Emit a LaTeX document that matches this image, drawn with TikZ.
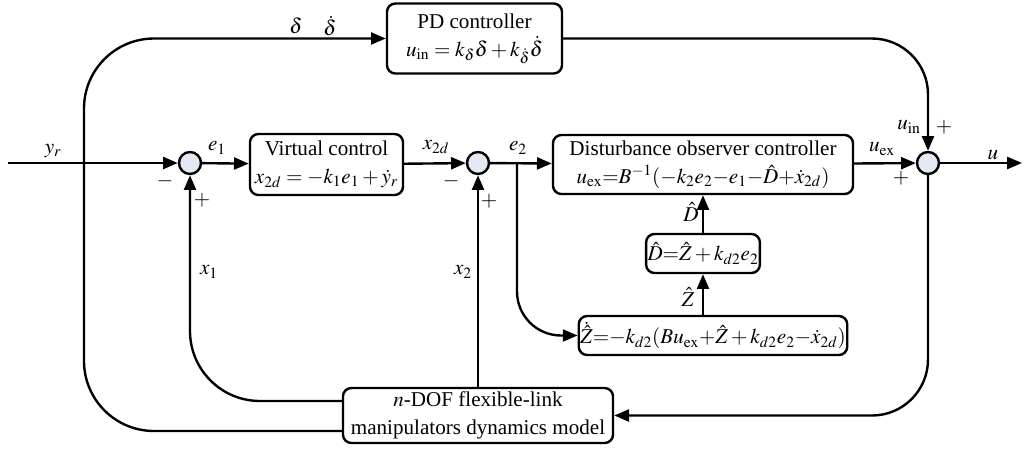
\documentclass[tikz,border=0pt]{standalone}
\usepackage{mathptmx}
\usepackage{fontspec}
\setmainfont{Liberation Serif}
\usepackage{xcolor}
\definecolor{sumfill}{RGB}{226,233,243}
\usetikzlibrary{arrows.meta,calc,positioning}

\begin{document}
\begin{tikzpicture}[x=0.025cm,y=-0.025cm,>={Triangle[length=10.5pt,width=8.5pt]},line width=1.7pt,
    font=\fontsize{15}{20}\selectfont,
    blk/.style={draw,rounded corners=6pt,align=center,inner sep=1pt},
    sumnode/.style={draw,circle,fill=sumfill,minimum size=0.55cm,inner sep=0pt},
    lbl/.style={inner sep=1pt}]
    \useasboundingbox (0,0) rectangle (1027,449);
    % blocks
    \node[blk,minimum width=4.375cm,minimum height=1.75cm] (pd) at (474.5,38.5)
      {PD controller\\ $u_{\mathrm{in}} = k_\delta\delta + k_{\dot\delta}\dot\delta$};
    \node[blk,minimum width=3.825cm,minimum height=1.525cm] (vc) at (326.5,164.5)
      {Virtual control\\ $x_{2d} = -k_1e_1 + \dot y_r$};
    \node[blk,minimum width=7.5cm,minimum height=1.475cm] (doc) at (703,164.5)
      {Disturbance observer controller\\ $u_{\mathrm{ex}}{=}B^{-1}(-k_2e_2{-}e_1{-}\hat D{+}\dot x_{2d})$};
    \node[blk,minimum width=2.65cm,minimum height=0.975cm] (dhat) at (703,253.5)
      {$\hat D{=}\hat Z+k_{d2}e_2$};
    \node[blk,minimum width=6.5cm,minimum height=0.975cm] (zdot) at (713,335.5)
      {$\dot{\hat Z}{=}{-}k_{d2}(Bu_{\mathrm{ex}}{+}\hat Z+k_{d2}e_2{-}\dot x_{2d})$};
    \node[blk,minimum width=6.75cm,minimum height=1.375cm] (plant) at (478,415.5)
      {$n$-DOF flexible-link\\ manipulators dynamics model};
    % summing points
    \node[sumnode] (s1) at (190,163) {};
    \node[sumnode] (s2) at (478,163) {};
    \node[sumnode] (s3) at (928,163) {};
    \coordinate (in) at (8,163);
    \coordinate (out) at (1022,163);
    \coordinate (br) at (517,163);
    % forward path
    \draw[->] (in) -- (s1);
    \draw[->] (s1) -- (vc);
    \draw[->] (vc) -- (s2);
    \draw[->] (s2) -- (doc);
    \draw[->] (doc) -- (s3);
    \draw[->] (s3) -- (out);
    \draw[->,rounded corners=1.4cm] (pd.east) -| (s3.north);
    \draw[->,rounded corners=1.1cm] (br) |- (zdot.west);
    \draw[->] (dhat.south |- zdot.north) -- (dhat.south);
    \draw[->] (dhat.north) -- (dhat.north |- doc.south);
    % feedback
    \draw[->,rounded corners=1.4cm] (s3.south) |- (plant.east);
    \draw[->] (plant.north) -- (s2.south);
    \draw[->,rounded corners=1.75cm] ($(plant.west)+(0,-14.5)$) -| (s1.south);
    \draw[->,rounded corners=1.75cm] ($(plant.west)+(0,15.5)$) -| (84,38.5) -- (pd.west);
    % signal labels
    \node[lbl] (lyr) at (53,151) {$y_r$};
    \node[lbl] (le1) at (217,148) {$e_1$};
    \node[lbl] (lx2d) at (436,147) {$x_{2d}$};
    \node[lbl] (le2) at (518,148) {$e_2$};
    \node[lbl] (luex) at (882,149) {$u_{\mathrm{ex}}$};
    \node[lbl] (lu) at (993,155) {$u$};
    \node[lbl] (luin) at (909,127) {$u_{\mathrm{in}}$};
    \node[lbl] (ldel) at (296,26) {$\delta$};
    \node[lbl] (lddel) at (330,26) {$\dot\delta$};
    \node[lbl] (lx1) at (209,272) {$x_1$};
    \node[lbl] (lx2) at (463,272) {$x_2$};
    \node[lbl] (ldh) at (691,212) {$\hat D$};
    \node[lbl] (lzh) at (688,297) {$\hat Z$};
    % signs
    \node[lbl] (m1) at (165,181) {$-$};
    \node[lbl] (p1) at (202,200) {$+$};
    \node[lbl] (m2) at (451,181) {$-$};
    \node[lbl] (p2) at (489,201) {$+$};
    \node[lbl] (p3) at (901,178) {$+$};
    \node[lbl] (p4) at (944,127) {$+$};
\end{tikzpicture}
\end{document}
